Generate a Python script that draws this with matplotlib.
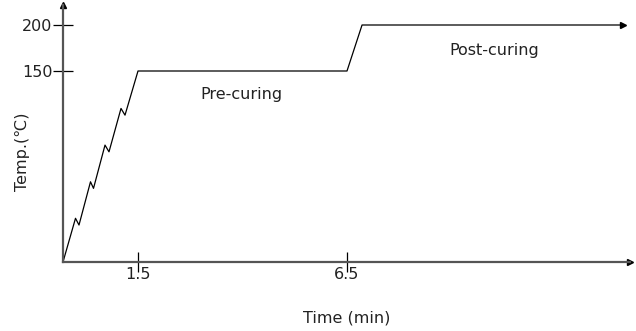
import numpy as np
import matplotlib
matplotlib.use("Agg")
import matplotlib.pyplot as plt

plt.rcParams['font.family'] = ['DejaVu Sans', 'Noto Sans CJK KR']

# curing profile (time in min, temperature in °C)
time_min = [0, 0.25, 0.32, 0.55, 0.61, 0.84, 0.92, 1.16, 1.24, 1.5, 6.5, 6.86, 13.1]
temp_c = [25, 53.6, 49.2, 77.5, 73.2, 101.5, 97.1, 125.5, 121.1, 150, 150, 200, 200]

x_ticks = [1.5, 6.5]
y_ticks = [150, 200]

# schematic axes: piecewise scales, like the drawing
xt = [0, 1.5, 6.5, 20]
xp = [0, 75, 284, 284 + 13.5 * 41.8]
yt = [25, 150, 260]
yp = [0, 191, 191 + 110 * 0.92]

def fx(v):
    return np.interp(v, xt, xp)

def fx_inv(v):
    return np.interp(v, xp, xt)

def fy(v):
    return np.interp(v, yt, yp)

def fy_inv(v):
    return np.interp(v, yp, yt)

W, H = 636, 331
fig = plt.figure(figsize=(W / 100, H / 100), dpi=100)
x0, x1 = 63, 630
y0, y1 = 262, 5
ax = fig.add_axes([x0 / W, (H - y0) / H, (x1 - x0) / W, (y0 - y1) / H])
ax.set_xscale('function', functions=(fx, fx_inv))
ax.set_yscale('function', functions=(fy, fy_inv))
ax.set_xlim(0, fx_inv(x1 - x0))
ax.set_ylim(25, fy_inv(y0 - y1))

for s in ['top', 'right']:
    ax.spines[s].set_visible(False)
axis_col = '#555555'
for s in ['left', 'bottom']:
    ax.spines[s].set_color(axis_col)
    ax.spines[s].set_linewidth(1.6)

# arrow heads on the axes
ax.plot(1, 0, '>', color='black', ms=5, transform=ax.transAxes, clip_on=False)
ax.plot(0, 1, '^', color='black', ms=5, transform=ax.transAxes, clip_on=False)

ax.plot(time_min, temp_c, color='black', lw=0.9, clip_on=False)
ax.plot(time_min[-1], temp_c[-1], '>', color='black', ms=5, clip_on=False)

ax.set_xticks(x_ticks)
ax.set_xticklabels([str(v) for v in x_ticks])
ax.set_yticks(y_ticks)
ax.set_yticklabels([str(v) for v in y_ticks])
ax.minorticks_off()
ax.tick_params(direction='inout', length=15, width=0.9, color='black',
               labelsize=11.5, labelcolor='#222222')
ax.tick_params(axis='x', pad=-4)
ax.tick_params(axis='y', pad=0)

txt = '#222222'
ax.text(3.98, 134.3, 'Pre-curing', fontsize=11.5, ha='center', va='center', color=txt)
ax.text(10.02, 172.8, 'Post-curing', fontsize=11.5, ha='center', va='center', color=txt)

fig.text(347 / W, 1 - 318 / H, 'Time (min)', fontsize=11.5, ha='center', va='center', color=txt)
fig.text(23 / W, 1 - 152 / H, 'Temp.(℃)', fontsize=11.5, ha='center', va='center',
         rotation=90, color=txt)

fig.savefig('out.png', dpi=100)
